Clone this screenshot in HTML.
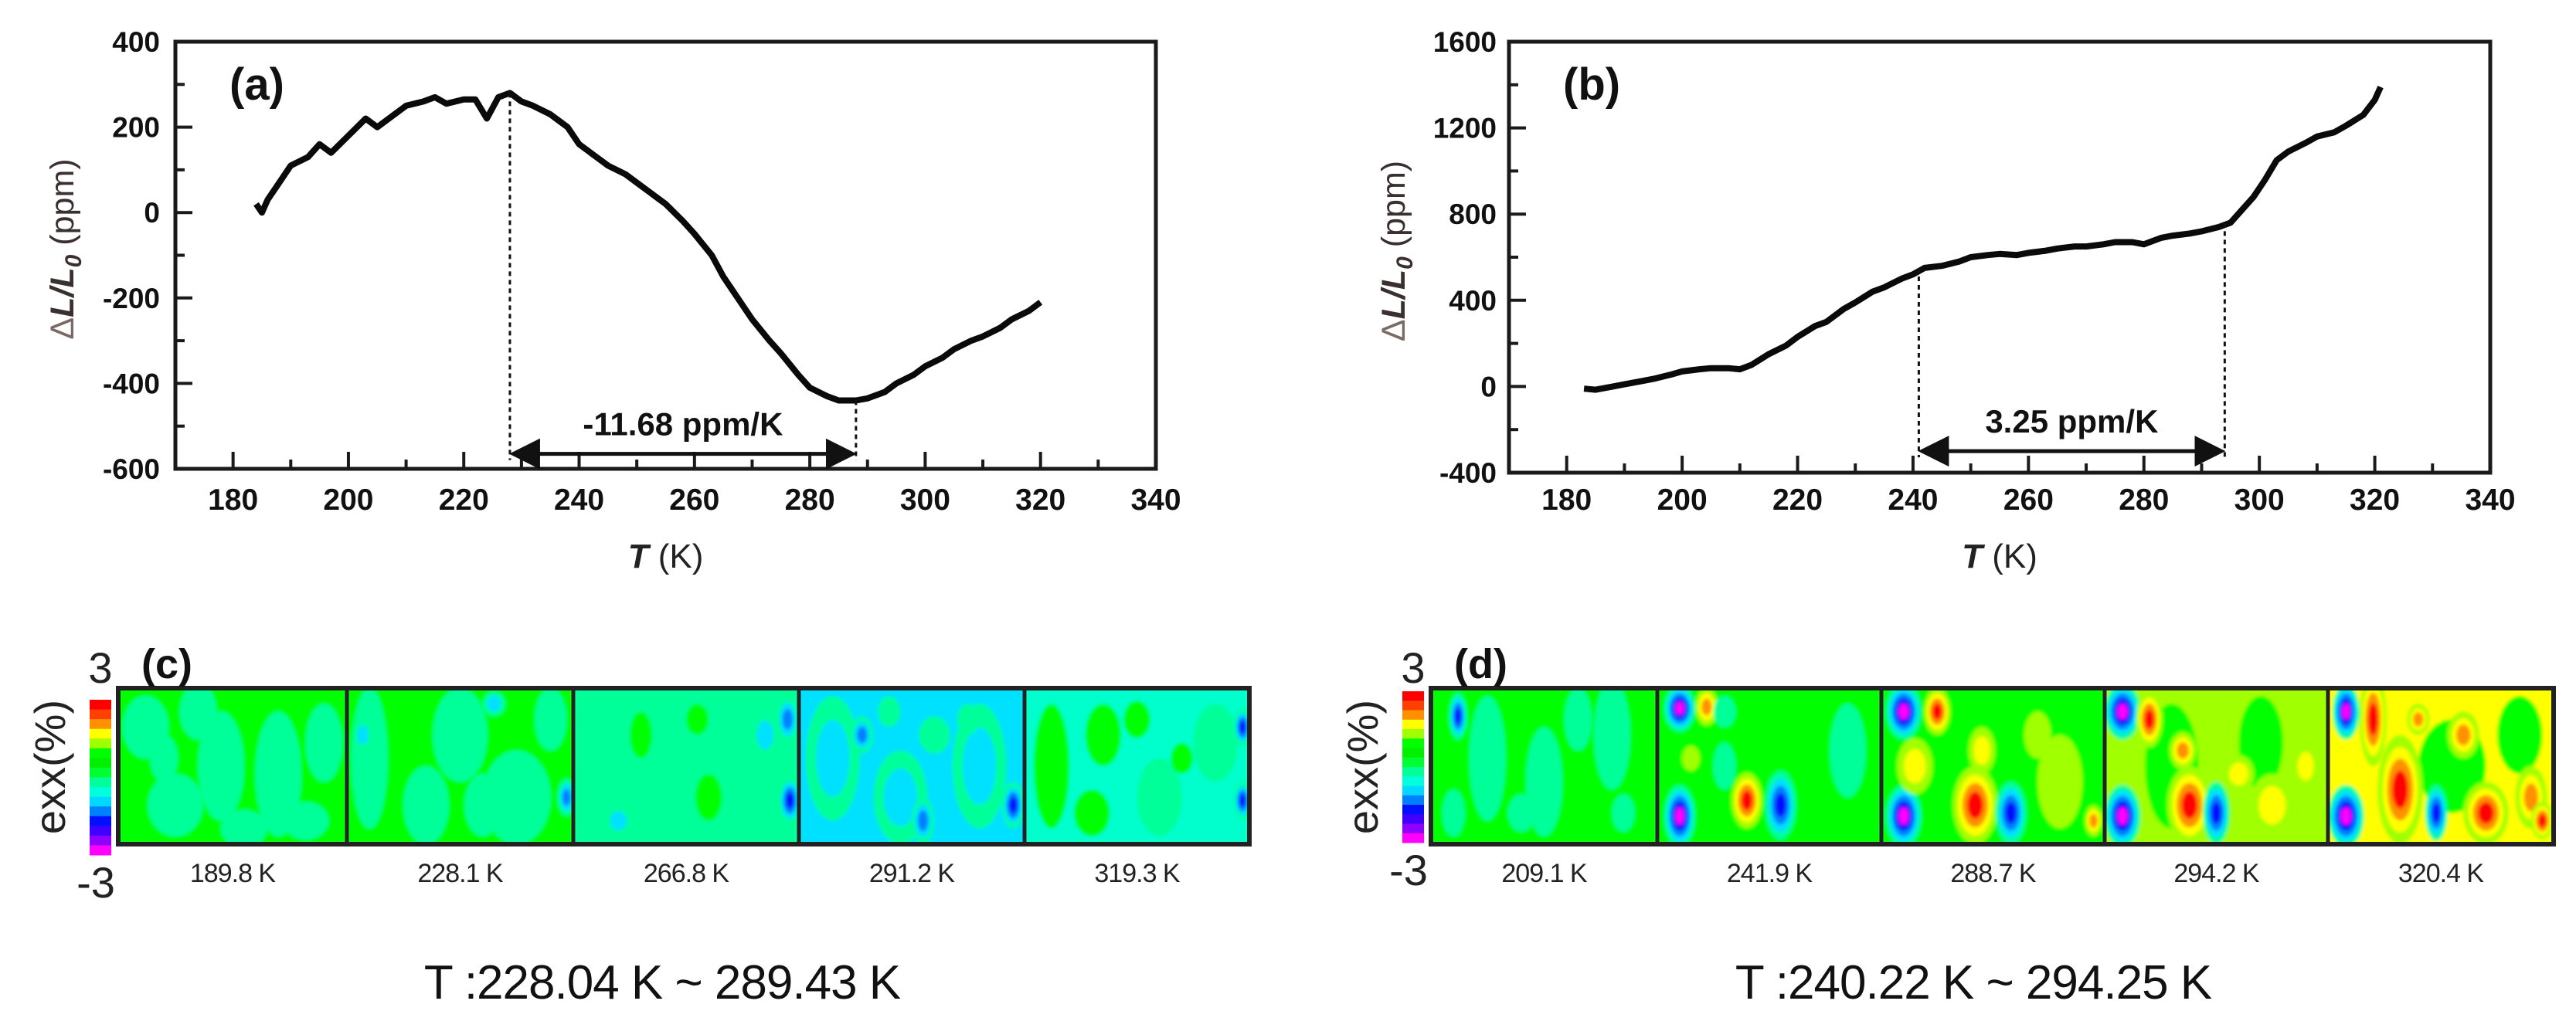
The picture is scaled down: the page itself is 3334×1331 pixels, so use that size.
<!DOCTYPE html>
<html><head><meta charset="utf-8"><style>
html,body{margin:0;padding:0;background:#fff;}
svg{display:block;font-family:"Liberation Sans",Arial,sans-serif;}
</style></head><body>
<svg id="fig" width="3334" height="1331" viewBox="0 0 3334 1331" xmlns="http://www.w3.org/2000/svg">
<defs>
<marker id="ah" markerWidth="8" markerHeight="8" refX="7" refY="4" orient="auto-start-reverse" markerUnits="strokeWidth"><path d="M0,0 L8,4 L0,8 z" fill="#111"/></marker>
<filter id="bl" x="-20%" y="-20%" width="140%" height="140%"><feGaussianBlur stdDeviation="2"/></filter>
</defs>
</svg>
<script>
// ---- chart (a) data ----
const tempsA = [184,185,186,188,190,193,195,197,200,203,205,208,210,213,215,217,220,222,224,226,228,230,232,235,238,240,243,245,248,250,253,255,258,260,263,265,268,270,273,275,278,280,283,285,288,290,293,295,298,300,303,305,308,310,313,315,318,320];
const strainA = [20,0,30,70,110,130,160,140,180,220,200,230,250,260,270,255,265,265,220,270,280,260,250,230,200,160,130,110,90,70,40,20,-20,-50,-100,-150,-210,-250,-300,-330,-380,-410,-430,-440,-440,-435,-420,-400,-380,-360,-340,-320,-300,-290,-270,-250,-230,-210];
const ticksYA = [400,200,0,-200,-400,-600];
// ---- chart (b) data ----
const tempsB = [183,185,188,190,193,195,198,200,203,205,208,210,212,215,218,220,223,225,228,230,233,235,238,240,242,245,248,250,253,255,258,260,263,265,268,270,273,275,278,280,283,285,288,290,293,295,297,299,301,303,305,308,310,313,315,318,320,321];
const strainB = [-10,-15,0,10,25,35,55,70,80,85,85,80,100,150,190,230,280,300,360,390,440,460,500,520,550,560,580,600,610,615,610,620,630,640,650,650,660,670,670,660,690,700,710,720,740,760,820,880,960,1050,1090,1130,1160,1180,1210,1260,1330,1390];
const ticksYB = [1600,1200,800,400,0,-400];
const ticksX = [180,200,220,240,260,280,300,320,340];
const rangeA = [228,288]; const rangeB = [241,294];
const labelsC = ["189.8 K","228.1 K","266.8 K","291.2 K","319.3 K"];
const labelsD = ["209.1 K","241.9 K","288.7 K","294.2 K","320.4 K"];

const NS="http://www.w3.org/2000/svg";
const svg=document.getElementById('fig');
function mk(tag,attrs,parent){const e=document.createElementNS(NS,tag);for(const k in attrs)e.setAttribute(k,attrs[k]);(parent||svg).appendChild(e);return e;}

function drawChart(o){
  const g=mk('g',{});
  
  
  const X=t=>o.x0+(t-170)/170*(o.x1-o.x0);
  const Y=v=>o.y1-(v-o.ymin)/(o.ymax-o.ymin)*(o.y1-o.y0);
  const fr=mk('rect',{x:o.x0,y:o.y0,width:o.x1-o.x0,height:o.y1-o.y0,fill:'none',stroke:'#1a1a1a','stroke-width':5},g);
  
  
  for(let t=170;t<=340;t+=10){
    const major=(t%20===0);
    mk('line',{x1:X(t),x2:X(t),y1:o.y1,y2:o.y1-(major?22:12),stroke:'#1a1a1a','stroke-width':4},g);
  }
  ticksX.forEach(t=>{
    const tx=mk('text',{x:X(t),y:660,'text-anchor':'middle','font-size':39,'font-weight':'bold',fill:'#111'},g);
    tx.textContent=t;
    
    
  });
  const step=(o.ticks[0]-o.ticks[1])/2;
  for(let v=o.ymin;v<=o.ymax;v+=step){
    const major=((v-o.ymin)%(2*step)===0);
    mk('line',{x1:o.x0,x2:o.x0+(major?22:12),y1:Y(v),y2:Y(v),stroke:'#1a1a1a','stroke-width':4},g);
  }
  o.ticks.forEach(v=>{
    const tx=mk('text',{x:o.lx,y:Y(v)+13,'text-anchor':'end','font-size':37,'font-weight':'bold',fill:'#111'},g);
    tx.textContent=v;
    
    
  });
  let d='';o.t.forEach((t,i)=>{d+=(i?'L':'M')+X(t).toFixed(1)+','+Y(o.v[i]).toFixed(1);});
  const p=mk('path',{d:d,fill:'none',stroke:'#0a0a0a','stroke-width':8,'stroke-linejoin':'round'},g);
  
  
  const yArr=Y(o.arrowV);
  o.range.forEach(t=>{
    let i=o.t.findIndex(tt=>tt>=t);
    const dl=mk('line',{x1:X(t),x2:X(t),y1:Y(o.v[i]),y2:yArr+8,stroke:'#111','stroke-width':3,'stroke-dasharray':'6,5'},g);
    
    
  });
  const ar=mk('line',{x1:X(o.range[0])+4,x2:X(o.range[1])-4,y1:yArr,y2:yArr,stroke:'#111','stroke-width':5,'marker-start':'url(#ah)','marker-end':'url(#ah)'},g);
  
  
  const lt=mk('text',{x:X((o.range[0]+o.range[1])/2),y:yArr-24,'text-anchor':'middle','font-size':42,'font-weight':'bold',fill:'#111'},g);
  lt.textContent=o.rateLabel;
  
  
  const pl=mk('text',{x:o.x0+70,y:o.y0+75,'font-size':58,'font-weight':'bold',fill:'#111'},g);
  pl.textContent=o.letter;
  
  
  const xt=mk('text',{x:(o.x0+o.x1)/2,y:735,'text-anchor':'middle','font-size':44,fill:'#222'},g);
  xt.innerHTML='<tspan font-weight="bold" font-style="italic">T</tspan> (K)';
  
  
  const yt=mk('text',{x:0,y:0,'text-anchor':'middle','font-size':43,fill:'#3b3030',transform:`translate(${o.tx},${(o.y0+o.y1)/2-8}) rotate(-90)`},g);
  yt.innerHTML='<tspan fill="#7a6a66">Δ</tspan><tspan font-weight="bold" font-style="italic">L/L</tspan><tspan font-weight="bold" font-style="italic" font-size="30" dy="10">0</tspan><tspan dy="-10">  (ppm)</tspan>';
  
  
}
drawChart({name:'chart-a',x0:227,x1:1496,y0:54,y1:607,ymin:-600,ymax:400,ticks:ticksYA,lx:207,tx:95,t:tempsA,v:strainA,range:rangeA,arrowV:-565,rateLabel:'-11.68 ppm/K',letter:'(a)'});
drawChart({name:'chart-b',x0:1953,x1:3223,y0:54,y1:612,ymin:-400,ymax:1600,ticks:ticksYB,lx:1937,tx:1818,t:tempsB,v:strainB,range:rangeB,arrowV:-300,rateLabel:'3.25 ppm/K',letter:'(b)'});

// ---- strain maps ----
const cbColors=['#ff0000','#ff4000','#ff9000','#ffff00','#a0ff00','#00ff00','#00f000','#00ff30','#00ff99','#00ffdd','#00d8ff','#0080ff','#0010ff','#4000ff','#9000ff','#ff00ff'];
const posCol=['#a0ff00','#ffff00','#ff9000','#ff0000'];
const negCol=['#00ff99','#00e0ff','#0080ff','#0010ff','#ff00ff'];
const mapsC=[
 {bg:'#00ff00',b:[[.12,.25,.1,.2,'n0'],[.35,.15,.08,.18,'n0'],[.45,.5,.1,.35,'n0'],[.7,.55,.1,.4,'n0'],[.25,.75,.12,.2,'n0'],[.9,.35,.08,.25,'n0'],[.55,.9,.1,.12,'n0'],[.2,.45,.06,.15,'n0'],[.82,.85,.1,.12,'n0']]},
 {bg:'#00ff00',b:[[.1,.45,.08,.45,'n0'],[.07,.3,.04,.1,'n2'],[.5,.3,.12,.3,'n0'],[.75,.7,.15,.3,'n0'],[.35,.75,.1,.25,'n0'],[.6,.75,.08,.2,'n1'],[.9,.2,.07,.2,'n0'],[.97,.7,.04,.12,'n3'],[.65,.1,.05,.08,'n2']]},
 {bg:'#00ff99',b:[[.15,.5,.15,.45,'n1'],[.45,.45,.15,.45,'n1'],[.75,.5,.15,.45,'n1'],[.3,.3,.05,.15,'n0g'],[.55,.2,.05,.1,'n0g'],[.6,.7,.06,.15,'n0g'],[.95,.2,.05,.15,'n3'],[.96,.72,.05,.15,'n4'],[.2,.85,.06,.1,'n2'],[.85,.3,.06,.15,'n2']]},
 {bg:'#00e0ff',b:[[.15,.45,.12,.4,'n2'],[.45,.7,.12,.3,'n2'],[.8,.5,.12,.4,'n2'],[.28,.3,.05,.12,'n3'],[.55,.85,.05,.15,'n3'],[.95,.75,.05,.15,'n4'],[.6,.3,.07,.12,'n0'],[.4,.15,.05,.1,'n0'],[.75,.2,.05,.1,'n0']]},
 {bg:'#00ffcc',b:[[.12,.5,.08,.4,'n0g'],[.35,.3,.08,.2,'n0g'],[.3,.8,.08,.15,'n0g'],[.6,.7,.1,.25,'n1'],[.85,.35,.1,.25,'n1'],[.97,.25,.04,.12,'n4'],[.97,.72,.04,.12,'n4'],[.5,.2,.06,.12,'n0g'],[.7,.45,.05,.1,'n0g']]}
];
const mapsD=[
 {bg:'#00ff00',b:[[.25,.45,.08,.4,'n0'],[.5,.6,.08,.35,'n0'],[.8,.3,.08,.35,'n0'],[.65,.2,.06,.2,'n0'],[.12,.18,.04,.15,'n4'],[.1,.8,.05,.15,'n1'],[.4,.8,.06,.12,'n1'],[.85,.8,.05,.12,'n1']]},
 {bg:'#00ff00',b:[[.1,.13,.07,.15,'n5'],[.22,.12,.05,.12,'p3'],[.1,.82,.07,.2,'n5'],[.4,.72,.07,.18,'p4'],[.55,.75,.07,.22,'n4'],[.3,.15,.05,.1,'n1'],[.85,.4,.08,.3,'n0'],[.3,.5,.05,.15,'n0'],[.15,.45,.04,.08,'p1']]},
 {bg:'#00ff00',b:[[.1,.15,.08,.18,'n5'],[.25,.15,.06,.15,'p4'],[.1,.82,.08,.2,'n5'],[.42,.75,.1,.25,'p4'],[.58,.8,.07,.2,'n4'],[.45,.4,.06,.15,'p2'],[.15,.5,.08,.18,'p2'],[.8,.6,.1,.3,'p1'],[.95,.85,.04,.1,'p3'],[.7,.3,.06,.15,'p1']]},
 {bg:'#a0ff00',b:[[.3,.5,.12,.4,'n0g'],[.7,.35,.1,.3,'n0g'],[.08,.15,.08,.18,'n5'],[.2,.2,.06,.18,'p4'],[.08,.82,.08,.2,'n5'],[.38,.75,.1,.25,'p4'],[.5,.8,.06,.2,'n4'],[.35,.4,.06,.12,'p3'],[.75,.75,.1,.2,'p2'],[.6,.55,.07,.12,'p2'],[.9,.5,.06,.15,'p2']]},
 {bg:'#ffff00',b:[[.55,.5,.15,.3,'n0g'],[.85,.3,.1,.25,'n0g'],[.08,.15,.06,.18,'n5'],[.2,.2,.06,.3,'p4'],[.08,.82,.08,.2,'n5'],[.32,.65,.1,.35,'p4'],[.48,.8,.05,.18,'n4'],[.7,.8,.1,.2,'p4'],[.9,.7,.07,.2,'p3'],[.6,.3,.07,.15,'p3'],[.4,.2,.05,.1,'p3'],[.95,.85,.05,.12,'p4']]}
];
function blob(g,x,y,rx,ry,kind){
  let levels=[];
  if(kind==='n0')levels=['#00ff99'];
  else if(kind==='n0g')levels=['#00ff00'];
  else if(kind[0]==='n'){const n=parseInt(kind[1]);levels=negCol.slice(0,n);}
  else {const n=parseInt(kind[1]);levels=posCol.slice(0,n);}
  levels.forEach((c,i)=>{const s=1-i/(levels.length+0.6);mk('ellipse',{cx:x,cy:y,rx:rx*s,ry:ry*s,fill:c},g);});
}
function drawMaps(o){
  const g=mk('g',{});
  
  
  const y0=891,y1=1093;
  o.maps.forEach((m,i)=>{
    const xa=o.edges[i],xb=o.edges[i+1],w=xb-xa,h=y1-y0;
    const pg=mk('g',{},g);
    
    
    const cid=o.name+'c'+i;
    const cp=mk('clipPath',{id:cid},pg);mk('rect',{x:xa,y:y0,width:w,height:h},cp);
    const inner=mk('g',{'clip-path':`url(#${cid})`,filter:'url(#bl)'},pg);
    mk('rect',{x:xa,y:y0,width:w,height:h,fill:m.bg},inner);
    m.b.forEach(b=>blob(inner,xa+b[0]*w,y0+b[1]*h,b[2]*w,b[3]*h,b[4]));
    const lb=mk('text',{x:(xa+xb)/2,y:1142,'text-anchor':'middle','font-size':34,fill:'#222','letter-spacing':'-1'},g);
    lb.textContent=o.labels[i];
    
    
  });
  for(let i=0;i<o.edges.length;i++){mk('line',{x1:o.edges[i],x2:o.edges[i],y1:y0,y2:y1,stroke:'#222','stroke-width':i===0||i===o.edges.length-1?6:5},g);}
  mk('rect',{x:o.edges[0],y:y0,width:o.edges[5]-o.edges[0],height:y1-y0,fill:'none',stroke:'#222','stroke-width':6},g);
  const cb=mk('g',{},g);
  
  
  const sh=(o.cb[3]-o.cb[2])/cbColors.length;
  cbColors.forEach((c,i)=>mk('rect',{x:o.cb[0],y:o.cb[2]+i*sh,width:o.cb[1]-o.cb[0],height:sh+0.5,fill:c},cb));
  const t3=mk('text',{x:(o.cb[0]+o.cb[1])/2,y:884,'text-anchor':'middle','font-size':56,fill:'#222'},g);t3.textContent='3';
  
  const tm=mk('text',{x:(o.cb[0]+o.cb[1])/2-6,y:o.cb[3]+55,'text-anchor':'middle','font-size':56,fill:'#222'},g);tm.textContent='-3';
  
  const ex=mk('text',{x:0,y:0,'text-anchor':'middle','font-size':56,fill:'#222',transform:`translate(${o.cb[0]-32},993) rotate(-90)`},g);ex.textContent='exx(%)';
  
  const pl=mk('text',{x:o.edges[0]+30,y:878,'font-size':54,'font-weight':'bold',fill:'#111'},g);pl.textContent=o.letter;
  
  const cap=mk('text',{x:o.capX,y:1293,'text-anchor':'middle','font-size':62,fill:'#111','letter-spacing':'-1'},g);cap.textContent=o.caption;
  
}
drawMaps({name:'strain-maps-c',maps:mapsC,edges:[153,449,742,1034,1326,1617],labels:labelsC,cb:[116,144,906,1107],letter:'(c)',capX:857,caption:'T :228.04 K ~ 289.43 K'});
drawMaps({name:'strain-maps-d',maps:mapsD,edges:[1852,2145,2435,2724,3013,3305],labels:labelsD,cb:[1815,1843,895,1091],letter:'(d)',capX:2554,caption:'T :240.22 K ~ 294.25 K'});
</script>
</body></html>
